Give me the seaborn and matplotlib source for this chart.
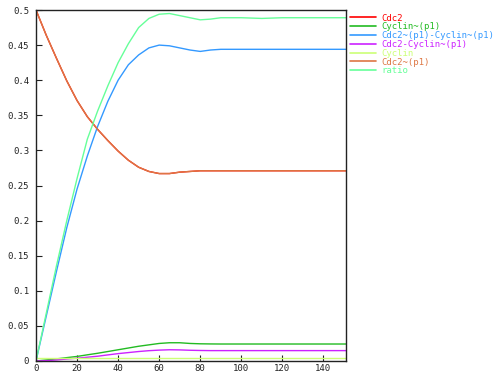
import matplotlib
matplotlib.use("Agg")
import matplotlib.pyplot as plt
import seaborn as sns
import pandas as pd
from matplotlib.lines import Line2D

time = [0, 5, 10, 15, 20, 25, 30, 35, 40, 45, 50, 55, 60, 65, 70, 75, 80, 85, 90,
        100, 110, 120, 130, 140, 151]

cdc2 = [0.5, 0.464, 0.431, 0.399, 0.371, 0.348, 0.330, 0.314, 0.299, 0.286, 0.276,
        0.270, 0.267, 0.267, 0.269, 0.270, 0.271, 0.271, 0.271,
        0.271, 0.271, 0.271, 0.271, 0.271, 0.271]
cyclin_p1 = [0, 0.0015, 0.003, 0.0048, 0.0065, 0.0088, 0.011, 0.0135, 0.016, 0.0185,
             0.021, 0.023, 0.025, 0.026, 0.026, 0.025, 0.0245, 0.0243, 0.0242,
             0.0242, 0.0242, 0.0242, 0.0242, 0.0242, 0.0242]
complex_pp = [0, 0.064, 0.128, 0.19, 0.245, 0.292, 0.334, 0.37, 0.40, 0.422, 0.436,
              0.446, 0.450, 0.449, 0.446, 0.443, 0.441, 0.443, 0.444,
              0.444, 0.444, 0.444, 0.444, 0.444, 0.444]
cdc2_cyclin_p1 = [0, 0.0005, 0.0015, 0.0028, 0.004, 0.0054, 0.0068, 0.0087, 0.0105,
                  0.012, 0.0135, 0.0147, 0.0155, 0.016, 0.0158, 0.0153, 0.015,
                  0.0148, 0.0148, 0.0148, 0.0148, 0.0148, 0.0148, 0.0148, 0.0148]
cyclin = [0.0045] * 25
cdc2_p1_time = [0] + time
cdc2_p1 = [0] + cdc2
ratio = [0, 0.068, 0.136, 0.200, 0.26, 0.316, 0.356, 0.392, 0.425, 0.452, 0.475,
         0.488, 0.494, 0.495, 0.492, 0.489, 0.486, 0.487, 0.489,
         0.489, 0.488, 0.489, 0.489, 0.489, 0.489]

labels = ["Cdc2", "Cyclin~(p1)", "Cdc2~(p1)-Cyclin~(p1)", "Cdc2-Cyclin~(p1)",
          "Cyclin", "Cdc2~(p1)", "ratio"]
colors = ["#ff0000", "#22bb22", "#3399ff", "#cc22ff", "#ccff77", "#dd7744", "#66ff99"]
series = [(time, cdc2), (time, cyclin_p1), (time, complex_pp), (time, cdc2_cyclin_p1),
          (time, cyclin), (cdc2_p1_time, cdc2_p1), (time, ratio)]

sns.set_theme(style="white")
plt.rcParams["font.family"] = ["DejaVu Sans Mono"]

fig = plt.figure(figsize=(4.97, 3.73), dpi=100)
ax = fig.add_axes([36 / 497, 12 / 373, 310 / 497, 351 / 373])

for (t, v), c, lab in zip(series, colors, labels):
    df = pd.DataFrame({"t": t, "v": v})
    sns.lineplot(data=df, x="t", y="v", ax=ax, color=c, linewidth=1.0,
                 estimator=None, sort=False, legend=False)

ax.set_xlim(0, 151)
ax.set_ylim(0, 0.5)
ax.set_xticks([0, 20, 40, 60, 80, 100, 120, 140])
ax.set_yticks([0, 0.05, 0.1, 0.15, 0.2, 0.25, 0.3, 0.35, 0.4, 0.45, 0.5])
ax.set_yticklabels(["0", "0.05", "0.1", "0.15", "0.2", "0.25", "0.3", "0.35",
                    "0.4", "0.45", "0.5"])
ax.set_xlabel("")
ax.set_ylabel("")
ax.tick_params(direction="in", length=4, width=0.8, labelsize=6.5, colors="#222222",
               left=True, bottom=True)
ax.tick_params(axis="x", pad=2)
ax.tick_params(axis="y", pad=5)
for s in ax.spines.values():
    s.set_color("#222222")
    s.set_linewidth(1.0)

handles = [Line2D([0], [0], color=c, lw=1.2) for c in colors]
leg = ax.legend(handles, labels, loc="upper left", bbox_to_anchor=(1.012, 0.99),
                frameon=False, fontsize=6.5, handlelength=2.9, handletextpad=0.6,
                labelspacing=-0.02, borderaxespad=0.0, borderpad=0.0,
                labelcolor="linecolor")

fig.savefig("out.png", dpi=100)
